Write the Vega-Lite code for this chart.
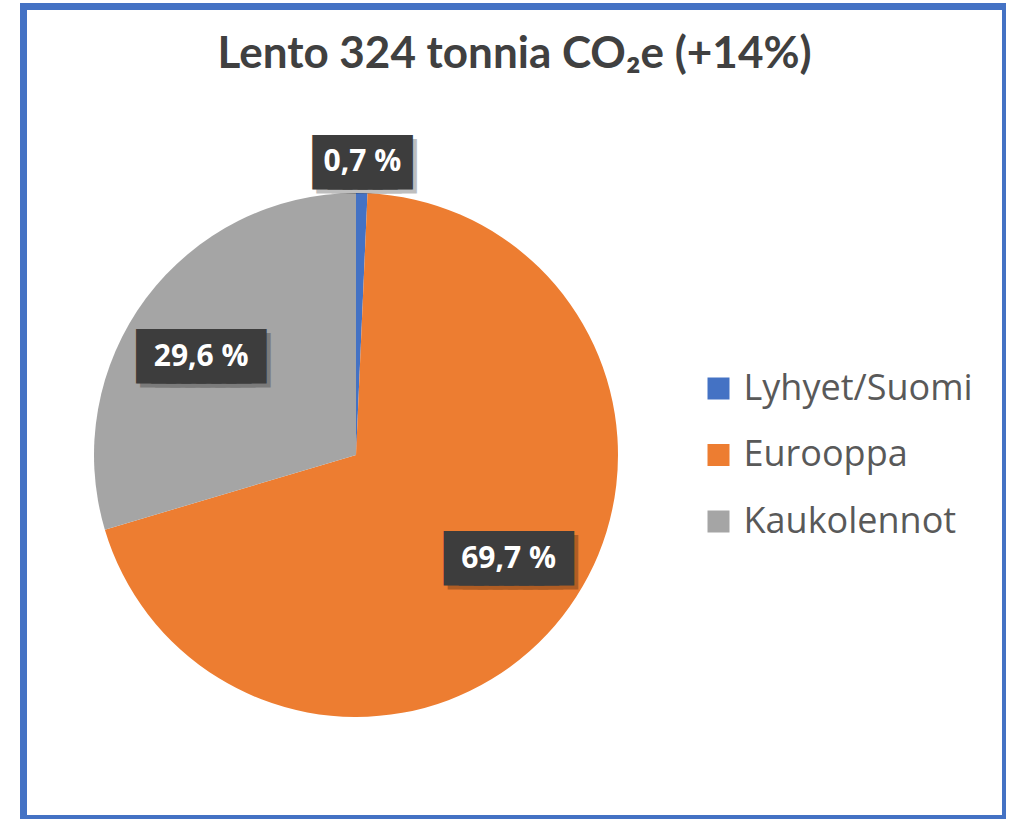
{
  "$schema": "https://vega.github.io/schema/vega-lite/v6.json",
  "width": 982,
  "height": 812,
  "autosize": {"type": "none"},
  "padding": {"left": 23.5, "top": 6.5, "right": 0, "bottom": 0},
  "background": "white",
  "view": {"stroke": "#4472C4", "strokeWidth": 7, "fill": "white"},
  "config": {
    "view": {"stroke": "#4472C4", "strokeWidth": 7},
    "legend": {
      "orient": "none",
      "legendX": 677,
      "legendY": 364,
      "labelFont": "Open Sans",
      "labelFontSize": 36,
      "labelColor": "#595959",
      "symbolType": "square",
      "symbolSize": 484,
      "symbolStrokeWidth": 0,
      "symbolOpacity": 1,
      "rowPadding": 30.5,
      "labelOffset": 7,
      "labelLimit": 400
    }
  },
  "title": {
    "text": "Lento 324 tonnia CO₂e (+14%)",
    "font": "Lato",
    "fontSize": 44,
    "fontWeight": "bold",
    "color": "#404040",
    "anchor": "middle",
    "frame": "group",
    "baseline": "alphabetic",
    "offset": 0,
    "dy": 105.5
  },
  "data": {
    "values": [
      {"cat": "Lyhyet/Suomi", "value": 0.7, "ord": 1},
      {"cat": "Eurooppa", "value": 69.7, "ord": 2},
      {"cat": "Kaukolennot", "value": 29.6, "ord": 3}
    ]
  },
  "transform": [
    {"calculate": "replace(format(datum.value, '.1f'), '.', ',') + ' %'", "as": "label"}
  ],
  "encoding": {
    "theta": {"field": "value", "type": "quantitative", "stack": true},
    "order": {"field": "ord", "type": "quantitative"}
  },
  "layer": [
    {
      "mark": {"type": "arc", "outerRadius": 262, "x": 332.5, "y": 448.5},
      "encoding": {
        "color": {
          "field": "cat",
          "type": "nominal",
          "title": null,
          "sort": ["Lyhyet/Suomi", "Eurooppa", "Kaukolennot"],
          "scale": {"domain": ["Lyhyet/Suomi", "Eurooppa", "Kaukolennot"], "range": ["#4472C4", "#ED7D31", "#A5A5A5"]}
        }
      }
    },
    {
      "mark": {"type": "text", "text": "███████", "font": "DejaVu Sans Mono", "fontSize": 25, "color": "#000000", "stroke": "#000000", "strokeWidth": 24.8, "strokeJoin": "miter", "radius": 184, "thetaOffset": -0.07, "x": 332.5, "y": 448.5, "dx": 4, "dy": 5.6, "align": "center", "baseline": "middle"},
      "encoding": {"opacity": {"condition": {"test": "datum.value < 5", "value": 0}, "value": 0.25}}
    },
    {
      "mark": {"type": "text", "text": "███████", "font": "DejaVu Sans Mono", "fontSize": 25, "color": "#3d3d3d", "stroke": "#3d3d3d", "strokeWidth": 24.8, "strokeJoin": "miter", "radius": 184, "thetaOffset": -0.07, "x": 332.5, "y": 448.5, "dy": 1.6, "align": "center", "baseline": "middle"},
      "encoding": {"opacity": {"condition": {"test": "datum.value < 5", "value": 0}, "value": 1}}
    },
    {
      "mark": {"type": "text", "font": "Open Sans", "fontSize": 30, "fontWeight": "bold", "color": "#ffffff", "radius": 184, "thetaOffset": -0.07, "x": 332.5, "y": 448.5, "dy": 1, "align": "center", "baseline": "middle"},
      "encoding": {
        "text": {"field": "label"},
        "opacity": {"condition": {"test": "datum.value < 5", "value": 0}, "value": 1}
      }
    },
    {
      "mark": {"type": "text", "text": "█████", "font": "DejaVu Sans Mono", "fontSize": 25, "color": "#000000", "stroke": "#000000", "strokeWidth": 24.8, "strokeJoin": "miter", "radius": 294, "x": 332.5, "y": 448.5, "dx": 4, "dy": 5.6, "align": "center", "baseline": "middle"},
      "encoding": {"opacity": {"condition": {"test": "datum.value < 5", "value": 0.25}, "value": 0}}
    },
    {
      "mark": {"type": "text", "text": "█████", "font": "DejaVu Sans Mono", "fontSize": 25, "color": "#3d3d3d", "stroke": "#3d3d3d", "strokeWidth": 24.8, "strokeJoin": "miter", "radius": 294, "x": 332.5, "y": 448.5, "dy": 1.6, "align": "center", "baseline": "middle"},
      "encoding": {"opacity": {"condition": {"test": "datum.value < 5", "value": 1}, "value": 0}}
    },
    {
      "mark": {"type": "text", "font": "Open Sans", "fontSize": 30, "fontWeight": "bold", "color": "#ffffff", "radius": 294, "x": 332.5, "y": 448.5, "dy": 1, "align": "center", "baseline": "middle"},
      "encoding": {
        "text": {"field": "label"},
        "opacity": {"condition": {"test": "datum.value < 5", "value": 1}, "value": 0}
      }
    }
  ]
}
